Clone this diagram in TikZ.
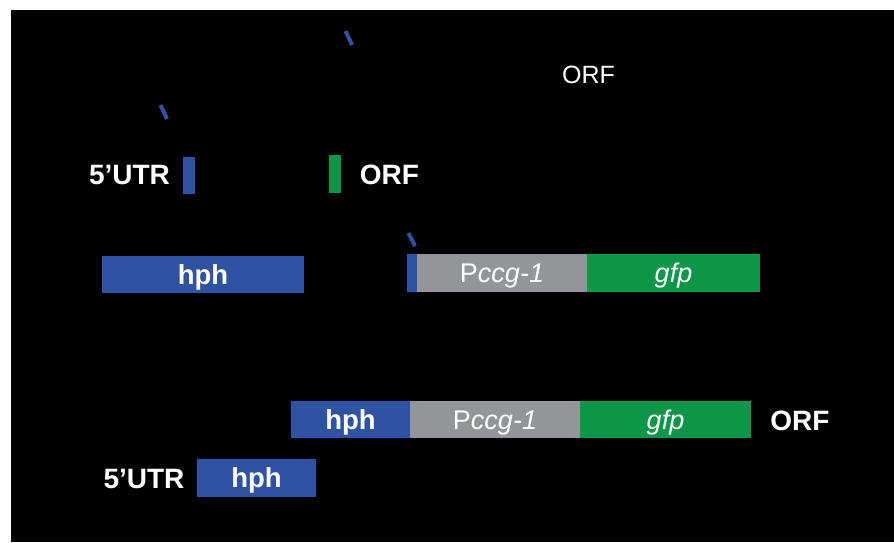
\documentclass[tikz,border=0pt]{standalone}
\usepackage{fontspec}
\setmainfont{Liberation Sans}
\definecolor{hblue}{RGB}{47,82,162}
\definecolor{ggreen}{RGB}{14,150,72}
\definecolor{pgrey}{RGB}{147,149,152}
\begin{document}
\begin{tikzpicture}[x=1pt,y=-1pt,
  every node/.style={inner sep=0pt, outer sep=0pt, text=white, text height=18pt, text depth=0pt,
    font=\fontsize{25}{30}\selectfont},
  lbl/.style={font=\fontsize{28}{32}\selectfont\bfseries, text height=20pt},
  bar/.style={rectangle, minimum height=37pt, font=\fontsize{27}{32}\selectfont, text height=19.3pt},
  bluebar/.style={bar, fill=hblue, font=\fontsize{27.5}{32}\selectfont\bfseries, text height=19.7pt},
  greybar/.style={bar, fill=pgrey},
  greenbar/.style={bar, fill=ggreen},
  tick/.style={draw=hblue, line width=4pt}]
\useasboundingbox (0,0) rectangle (894,542);
\fill[white] (0,0) rectangle (894,542);
\fill[black] (11,10) rectangle (894,542);
% ticks
\draw[tick] (345.5,31) -- (352,45);
\draw[tick] (160.5,105) -- (167,119);
\draw[tick] (408.5,233) -- (415,246);
% top ORF
\node (orftop) at (588.5,74.5) {ORF};
% row 1
\node[lbl] (utr1) at (129.5,174) {5’UTR};
\node[bar, fill=hblue, minimum width=12pt] (ub1) at (189,175.5) {};
\node[bar, fill=ggreen, minimum width=12pt, minimum height=38pt] (ob1) at (335,174) {};
\node[lbl] (orf1) at (389.5,174) {ORF};
% row 2
\node[bluebar, minimum width=202pt] (hph1) at (203,274.5) {hph};
\node[bar, fill=hblue, minimum width=10pt, minimum height=38pt] (ub2) at (412,273) {};
\node[greybar, minimum width=170pt, minimum height=38pt] (pc2) at (502,273) {P\textit{ccg-1}};
\node[greenbar, minimum width=173pt, minimum height=38pt] (gf2) at (673.5,273) {\textit{gfp}};
% row 3
\node[bluebar, minimum width=119pt] (hph3) at (350.5,419.5) {hph};
\node[greybar, minimum width=170pt] (pc3) at (495,419.5) {P\textit{ccg-1}};
\node[greenbar, minimum width=171pt] (gf3) at (665.5,419.5) {\textit{gfp}};
\node[lbl] (orf3) at (800,420) {ORF};
% row 4
\node[lbl] (utr4) at (144,478) {5’UTR};
\node[bluebar, minimum width=119pt, minimum height=38pt] (hph4) at (256.5,478) {hph};
\end{tikzpicture}
\end{document}
